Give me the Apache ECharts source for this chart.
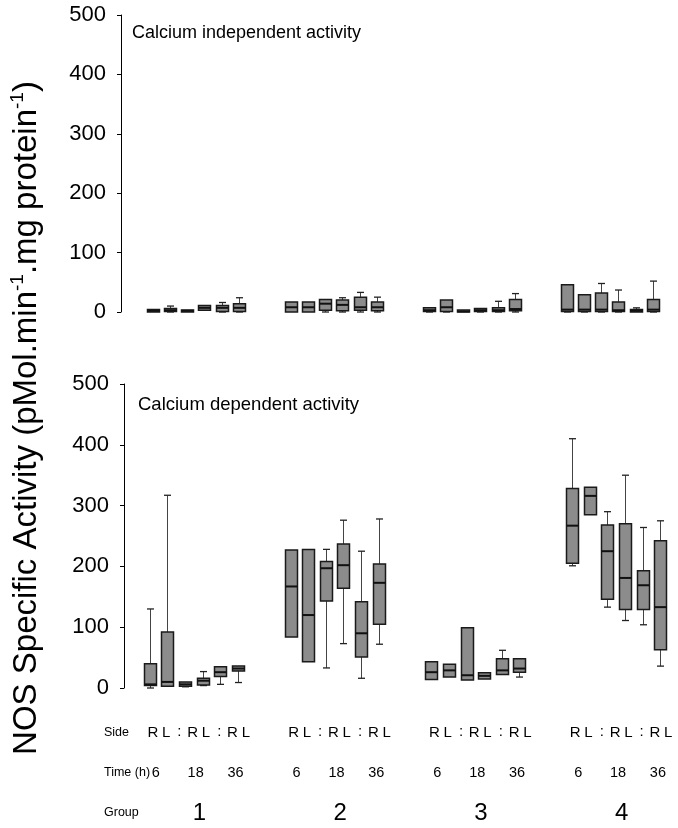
<!DOCTYPE html>
<html><head><meta charset="utf-8">
<script src="https://cdn.jsdelivr.net/npm/echarts@6/dist/echarts.min.js"></script>
<style>html,body{margin:0;padding:0;background:#fff}#c{width:678px;height:828px}</style>
</head><body><div id="c"></div>
<script>
// ---------- data ----------
const groups = ['1', '2', '3', '4'];
const times = ['6', '18', '36'];
const sides = ['R', 'L'];
const yTicks = [0, 100, 200, 300, 400, 500];

// each box: [min, Q1, median, Q3, max]; order R6, L6, R18, L18, R36, L36
const independentGroup1 = [[0,0,2,4,4],[0,1,3,6,10],[0,0,2,3,3],[3,3,7,11,11],[0,1,7,11,16],[0,1,7,14,24]];
const independentGroup2 = [[0,0,8,17,17],[0,0,8,17,17],[0,3,14,21,21],[0,2,12,20,24],[0,3,8,25,33],[0,2,8,17,25]];
const independentGroup3 = [[0,1,3,7,7],[0,1,8,20,20],[0,0,1,2,2],[0,1,3,6,6],[0,1,3,7,18],[0,2,5,21,31]];
const independentGroup4 = [[0,1,4,46,46],[0,1,4,29,29],[0,1,4,32,48],[0,1,3,17,37],[0,0,2,4,7],[0,1,4,21,52]];

const dependentGroup1 = [[0,4,6,40,130],[3,3,10,92,317],[2,3,6,10,10],[4,5,12,16,27],[6,19,26,35,35],[9,28,32,36,36]];
const dependentGroup2 = [[84,84,167,227,227],[43,43,120,228,228],[33,143,197,208,228],[73,164,202,237,276],[16,51,90,142,225],[72,105,173,204,278]];
const dependentGroup3 = [[14,14,26,43,43],[18,18,29,39,39],[13,13,21,99,99],[15,15,20,25,25],[22,22,29,48,62],[18,26,32,48,48]];
const dependentGroup4 = [[201,205,267,328,410],[285,285,316,330,330],[133,146,225,268,290],[111,129,181,270,350],[104,129,169,193,264],[36,63,133,242,275]];

const independentData = [independentGroup1, independentGroup2, independentGroup3, independentGroup4];
const dependentData = [dependentGroup1, dependentGroup2, dependentGroup3, dependentGroup4];

// ---------- categories (boxes + spacer slots between groups) ----------
const categories = [];
groups.forEach((g, gi) => {
  times.forEach(t => sides.forEach(s => categories.push('G' + g + ' ' + t + 'h ' + s)));
  if (gi < groups.length - 1) { categories.push('gap' + g + 'a'); categories.push('gap' + g + 'b'); }
});
function catName(g, t, s) { return 'G' + g + ' ' + t + 'h ' + s; }

function toSeriesData(groupArrays) {
  const out = [];
  groups.forEach((g, gi) => {
    let k = 0;
    times.forEach(t => sides.forEach(s => {
      out.push([categories.indexOf(catName(g, t, s))].concat(groupArrays[gi][k]));
      k++;
    }));
  });
  return out;
}

const FONT = '"Liberation Sans", Arial, Helvetica, sans-serif';

function renderBox(params, api) {
  const x = api.value(0);
  const lo = api.coord([x, api.value(1)]);
  const q1 = api.coord([x, api.value(2)]);
  const md = api.coord([x, api.value(3)]);
  const q3 = api.coord([x, api.value(4)]);
  const hi = api.coord([x, api.value(5)]);
  const cx = Math.round(lo[0]) + 0.5;
  const hw = 6, cap = 3.5;
  const children = [];
  if (hi[1] < q3[1] - 0.5) {
    children.push({type: 'line', shape: {x1: cx, y1: hi[1], x2: cx, y2: q3[1]}, style: {stroke: '#444', lineWidth: 1}});
    children.push({type: 'line', shape: {x1: cx - cap, y1: hi[1], x2: cx + cap, y2: hi[1]}, style: {stroke: '#222', lineWidth: 1.3}});
  }
  if (lo[1] > q1[1] + 0.5) {
    children.push({type: 'line', shape: {x1: cx, y1: q1[1], x2: cx, y2: lo[1]}, style: {stroke: '#444', lineWidth: 1}});
    children.push({type: 'line', shape: {x1: cx - cap, y1: lo[1], x2: cx + cap, y2: lo[1]}, style: {stroke: '#222', lineWidth: 1.3}});
  }
  const h = Math.max(q1[1] - q3[1], 2);
  children.push({type: 'rect', shape: {x: cx - hw, y: q1[1] - h, width: 2 * hw, height: h},
    style: {fill: '#8c8c8c', stroke: '#1a1a1a', lineWidth: 1.5}});
  children.push({type: 'line', shape: {x1: cx - hw, y1: md[1], x2: cx + hw, y2: md[1]}, style: {stroke: '#111', lineWidth: 2}});
  return {type: 'group', children};
}

function yAxisDef(gridIndex, offset) {
  return {
    type: 'value', gridIndex, min: yTicks[0], max: yTicks[yTicks.length - 1], interval: yTicks[1] - yTicks[0],
    offset,
    axisLine: {show: true, lineStyle: {color: '#000', width: 1}},
    axisTick: {show: true, length: 4, lineStyle: {color: '#000'}},
    axisLabel: {color: '#000', fontSize: 22, fontFamily: FONT, margin: 15},
    splitLine: {show: false}
  };
}
function xAxisDef(gridIndex) {
  return {type: 'category', gridIndex, data: categories, boundaryGap: true, show: false};
}

const chart = echarts.init(document.getElementById('c'), null, {renderer: 'canvas'});
chart.setOption({
  animation: false,
  backgroundColor: '#fff',
  grid: [
    {left: 144, top: 15, width: 517.5, height: 297},
    {left: 141, top: 384, width: 528, height: 304}
  ],
  xAxis: [xAxisDef(0), xAxisDef(1)],
  yAxis: [yAxisDef(0, 23), yAxisDef(1, 17)],
  series: [
    {name: 'Calcium independent activity', type: 'custom', xAxisIndex: 0, yAxisIndex: 0,
     renderItem: renderBox, encode: {x: 0, y: [1, 2, 3, 4, 5]}, data: toSeriesData(independentData)},
    {name: 'Calcium dependent activity', type: 'custom', xAxisIndex: 1, yAxisIndex: 1,
     renderItem: renderBox, encode: {x: 0, y: [1, 2, 3, 4, 5]}, data: toSeriesData(dependentData)}
  ]
});

// ---------- annotations ----------
function px(name) { return chart.convertToPixel({xAxisIndex: 1}, categories.indexOf(name)); }
const graphics = [];
function txt(x, y, text, size, align) {
  graphics.push({type: 'text', x, y, style: {text, fill: '#000', fontSize: size, fontFamily: FONT,
    align: align || 'center', verticalAlign: 'middle'}});
}
graphics.push({
  type: 'text', x: 27, y: 418, rotation: Math.PI / 2,
  style: {
    text: '{a|NOS Specific Activity (pMol.min}{s|-1}{a|.mg protein}{s|-1}{a|)}',
    fill: '#000', fontFamily: FONT, fontSize: 33, align: 'center', verticalAlign: 'middle',
    rich: {
      a: {fontSize: 33, fontFamily: FONT, fill: '#000', lineHeight: 38},
      s: {fontSize: 19, fontFamily: FONT, fill: '#000', verticalAlign: 'top'}
    }
  }
});
txt(132, 33, 'Calcium independent activity', 18, 'left');
txt(138, 405, 'Calcium dependent activity', 18.5, 'left');
txt(104, 733, 'Side', 12.5, 'left');
txt(104, 773, 'Time (h)', 12.5, 'left');
txt(104, 813, 'Group', 12.5, 'left');
const sideChars = [];
times.forEach((t, ti) => {
  sides.forEach(s => sideChars.push(s));
  if (ti < times.length - 1) sideChars.push(':');
});
groups.forEach((g) => {
  const start = px(catName(g, times[0], sides[0])) + 3;
  const end = px(catName(g, times[times.length - 1], sides[sides.length - 1])) + 8;
  const step = (end - start) / (sideChars.length - 1);
  let ti = 0;
  sideChars.forEach((c, i) => {
    const x = start + i * step;
    txt(x, c === ':' ? 732 : 733, c, 15);
    if (c === sides[0]) { txt(x + 3, 773, times[ti], 14.5); ti++; }
  });
  txt((start + end) / 2, 813, g, 24);
});
chart.setOption({graphic: graphics});
</script>
</body></html>
